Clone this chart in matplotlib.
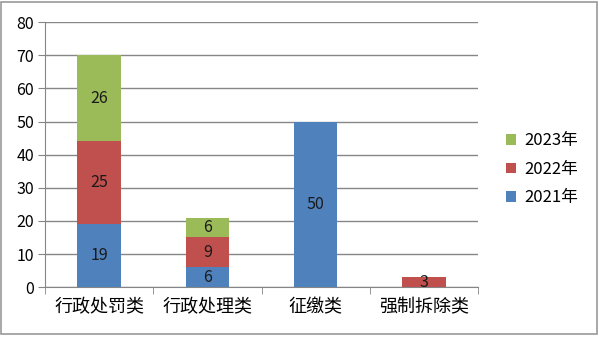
import numpy as np
import matplotlib.pyplot as plt
from matplotlib.patches import Rectangle

plt.rcParams['font.family'] = ['Noto Sans CJK SC', 'DejaVu Sans']

categories = ['行政处罚类', '行政处理类', '征缴类', '强制拆除类']
years = ['2021年', '2022年', '2023年']
v2021 = [19, 6, 50, 0]
v2022 = [25, 9, 0, 3]
v2023 = [26, 6, 0, 0]
colors = ['#4F81BD', '#C0504D', '#9BBB59']

fig = plt.figure(figsize=(5.99, 3.37), dpi=100)
ax = fig.add_axes([0.0751, 0.148, 0.723, 0.786])

x = np.arange(len(categories))
bottom = np.zeros(len(categories))
handles = []
for name, vals, c in zip(years, [v2021, v2022, v2023], colors):
    vals = np.array(vals)
    bars = ax.bar(x, vals, 0.4, bottom=bottom, color=c, label=name, zorder=3)
    labels = [str(v) if v > 0 else '' for v in vals]
    ax.bar_label(bars, labels=labels, label_type='center', fontsize=11.5,
                 color='#1a1a1a', zorder=4)
    bottom += vals
    handles.append(bars)

ax.set_xlim(-0.5, len(categories) - 0.5)
ax.set_ylim(0, 80)
ax.set_yticks(range(0, 81, 10))
ax.yaxis.grid(True, color='#868686', linewidth=1, zorder=0)
ax.set_xticks(x)
ax.set_xticklabels(categories, fontsize=13)
ax.set_xticks(np.arange(-0.5, len(categories), 1), minor=True)
ax.tick_params(axis='x', which='major', length=0, pad=8)
ax.tick_params(axis='x', which='minor', length=5, color='#868686')
ax.tick_params(axis='y', length=5, color='#868686', labelsize=11.5, pad=3)
for s in ['top', 'right']:
    ax.spines[s].set_visible(False)
for s in ['left', 'bottom']:
    ax.spines[s].set_color('#868686')

ax.legend(handles[::-1], years[::-1], loc='center left',
          bbox_to_anchor=(1.03, 0.445), frameon=False, fontsize=12,
          handlelength=0.6, handleheight=0.6, handletextpad=0.5,
          labelspacing=0.7)

# gray frame round the whole figure
fig.patches.append(Rectangle((0.002, 0.01), 0.995, 0.985, transform=fig.transFigure,
                             fill=False, edgecolor='#9a9a9a', linewidth=1.2))

fig.savefig('out.png', dpi=100)
